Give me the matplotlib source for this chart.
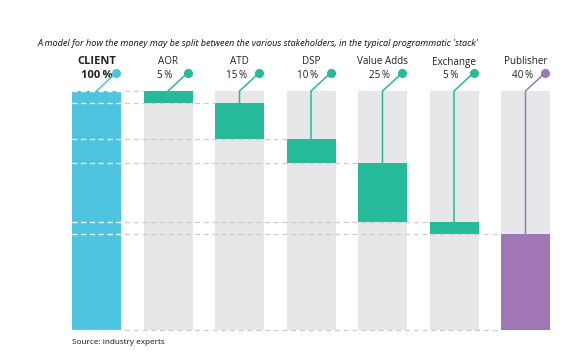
import numpy as np
import matplotlib.pyplot as plt

# ---- Data ----
names = ['CLIENT', 'AOR', 'ATD', 'DSP', 'Value Adds', 'Exchange', 'Publisher']
shares = [100, 5, 15, 10, 25, 5, 40]
pct_labels = ['100\u2009%', '5\u2009%', '15\u2009%', '10\u2009%', '25\u2009%', '5\u2009%', '40\u2009%']

BLUE = '#4ec4df'
GREEN = '#26b99a'
PURPLE = '#9e77b4'
GREY = '#e6e7e8'
DASH = '#cccccc'

plt.rcParams['font.family'] = ['Open Sans', 'DejaVu Sans']

W, H = 571, 360
fig = plt.figure(figsize=(W / 100, H / 100), dpi=100)

# axes: one unit per column (pitch 71.5 px), y in percent (0 at y=330px, 100 at y=91px)
pitch = 71.5
x0 = 96.5 - pitch / 2
ax = fig.add_axes([x0 / W, (H - 330) / H, 7 * pitch / W, 239 / H])
ax.set_xlim(-0.5, 6.5)
ax.set_ylim(0, 100)
ax.axis('off')

bw = 49 / pitch
n = len(names)
xs = np.arange(n)

# segment tops / bottoms (stack from top)
tops = [100.0]
bottoms = [0.0]
level = 100.0
for s in shares[1:]:
    tops.append(level)
    level -= s
    bottoms.append(level)

colors = [BLUE] + [GREEN] * (n - 2) + [PURPLE]

for i in range(n):
    if i > 0:
        ax.bar(xs[i], 100, bottom=0, width=bw, color=GREY, zorder=1)
    ax.bar(xs[i], tops[i] - bottoms[i], bottom=bottoms[i], width=bw,
           color=colors[i], zorder=2)

# dashed guide lines from the client bar to each segment
for i in range(1, n):
    ax.plot([xs[0] - bw / 2, xs[i] - bw / 2], [tops[i], tops[i]],
            color=DASH, lw=0.9, ls=(0, (4, 3)), zorder=3, clip_on=False)
ax.plot([xs[0] - bw / 2, xs[-1] - bw / 2], [0, 0],
        color=DASH, lw=0.9, ls=(0, (4, 3)), zorder=3, clip_on=False)
# white dashes across the client bar
for lv in sorted(set(tops[1:] + [0])):
    ax.plot([xs[0] - bw / 2, xs[0] + bw / 2], [lv, lv], color='white',
            lw=0.9, ls=(0, (4, 3)), zorder=4, clip_on=False)

# labels and leaders
ypx = lambda p: (330 - p) / 239 * 100
for i in range(n):
    c = colors[i]
    bold = i == 0
    dot_x = xs[i] + bw / 2 - 5 / pitch
    dot_y = ypx(73)
    ax.plot([dot_x, xs[i], xs[i]], [dot_y, 100, tops[i]], color=c, lw=1.1,
            zorder=5, clip_on=False, solid_joinstyle='miter')
    ax.plot(dot_x, dot_y, 'o', color=c, ms=5.5, zorder=6, clip_on=False)
    ax.text(xs[i], ypx(62), names[i], ha='center', va='center',
            fontsize=8 if bold else 7.1,
            fontweight='bold' if bold else 'normal', color='#222222')
    ax.text(xs[i] - (0 if bold else 3) / pitch, ypx(75.5), pct_labels[i],
            ha='center', va='center', fontsize=8 if bold else 7.1,
            fontweight='bold' if bold else 'normal', color='#222222')

fig.text(38 / W, 1 - 43 / H,
         "A model for how the money may be split between the various stakeholders, in the typical programmatic 'stack'",
         ha='left', va='center', fontsize=6.6, style='italic', color='#111111')
fig.text(72 / W, 1 - 343 / H, 'Source: industry experts', ha='left', va='center',
         fontsize=5.9, color='#111111')

fig.savefig('out.png', dpi=100)
